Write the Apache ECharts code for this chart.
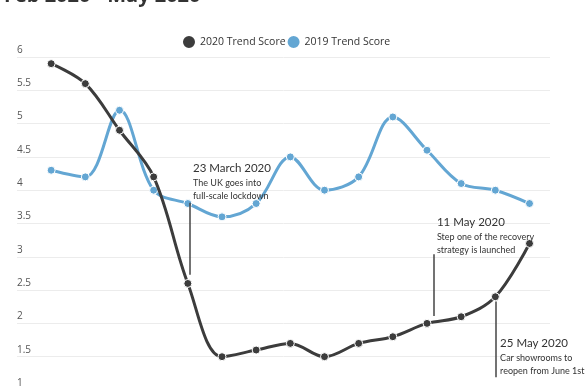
<!DOCTYPE html>
<html><head><meta charset="utf-8">
<script src="https://cdn.jsdelivr.net/npm/echarts@6/dist/echarts.min.js"></script>
<style>html,body{margin:0;padding:0;background:#fff}#c{width:585px;height:390px}</style>
</head><body><div id="c"></div>
<script>
const titleText = 'Feb 2020 - May 2020';
const categories = ['24 Feb','2 Mar','9 Mar','16 Mar','23 Mar','30 Mar','6 Apr','13 Apr','20 Apr','27 Apr','4 May','11 May','18 May','25 May','1 Jun'];
const trend2020 = [5.9,5.6,4.9,4.2,2.6,1.5,1.6,1.7,1.5,1.7,1.8,2.0,2.1,2.4,3.2];
const trend2019 = [4.3,4.2,5.2,4.0,3.8,3.6,3.8,4.5,4.0,4.2,5.1,4.6,4.1,4.0,3.8];
const seriesNames = ['2020 Trend Score','2019 Trend Score'];
const annotations = [
  {title:'23 March 2020', lines:['The UK goes into','full-scale lockdown'], tx:4.15, ty:4.46, lx:4.06, ly1:3.81, ly2:2.73},
  {title:'11 May 2020', lines:['Step one of the recovery','strategy is launched'], tx:11.29, ty:3.65, lx:11.2, ly1:3.04, ly2:2.11},
  {title:'25 May 2020', lines:['Car showrooms to','reopen from June 1st'], tx:13.14, ty:1.83, lx:13.0, ly1:2.33, ly2:1.19}
];
const FONT = 'Open Sans';
const AFONT = 'Lato';
const chart = echarts.init(document.getElementById('c'));
const mk = (arr) => arr.map((v,i)=>[i,v]);
chart.setOption({
  animation:false,
  textStyle:{fontFamily:FONT},
  title:{text:titleText,left:-1,top:-19,textStyle:{fontSize:20,fontWeight:'bold',color:'#333',fontFamily:FONT}},
  legend:{top:29,left:176,icon:'circle',itemWidth:14,itemHeight:14,itemGap:0,
    textStyle:{fontSize:10.5,color:'#333',fontFamily:FONT,padding:[0,0,0,-1]},data:seriesNames},
  grid:{left:17,right:35,top:57,bottom:-5,containLabel:false},
  xAxis:{type:'value',min:-1,max:14.6,show:false,splitLine:{show:false}},
  yAxis:{type:'value',min:1,max:6,interval:0.5,
    axisLine:{show:false},axisTick:{show:false},
    axisLabel:{align:'left',verticalAlign:'bottom',margin:0,fontSize:10,color:'#555',padding:[0,0,2,0]},
    splitLine:{lineStyle:{color:'#ececec',width:1}}},
  series:[
    {name:seriesNames[0],type:'line',smooth:0.35,data:mk(trend2020),z:3,
     symbol:'circle',symbolSize:8,color:'#3c3c3c',
     lineStyle:{width:3,color:'#3c3c3c'},itemStyle:{color:'#3c3c3c',borderColor:'#fff',borderWidth:1},
     markLine:{silent:true,symbol:'none',animation:false,
       lineStyle:{color:'#444',width:1.5,type:'solid'},label:{show:false},
       data:annotations.map(a=>[{coord:[a.lx,a.ly1]},{coord:[a.lx,a.ly2]}])},
     markPoint:{silent:true,symbol:'circle',symbolSize:0,animation:false,
       data:annotations.map(a=>({coord:[a.tx,a.ty],
         label:{show:true,position:[0,0],align:'left',verticalAlign:'top',
           formatter:'{t|'+a.title+'}\n'+a.lines.map(l=>'{s|'+l+'}').join('\n'),
           rich:{t:{fontSize:11.5,color:'#333',lineHeight:17,fontFamily:AFONT},
                 s:{fontSize:9,color:'#333',lineHeight:13,fontFamily:AFONT}}}}))}
    },
    {name:seriesNames[1],type:'line',smooth:0.35,data:mk(trend2019),z:2,
     symbol:'circle',symbolSize:8,color:'#63a6d3',
     lineStyle:{width:3,color:'#63a6d3'},itemStyle:{color:'#63a6d3',borderColor:'#fff',borderWidth:1}}
  ]
});
</script></body></html>
